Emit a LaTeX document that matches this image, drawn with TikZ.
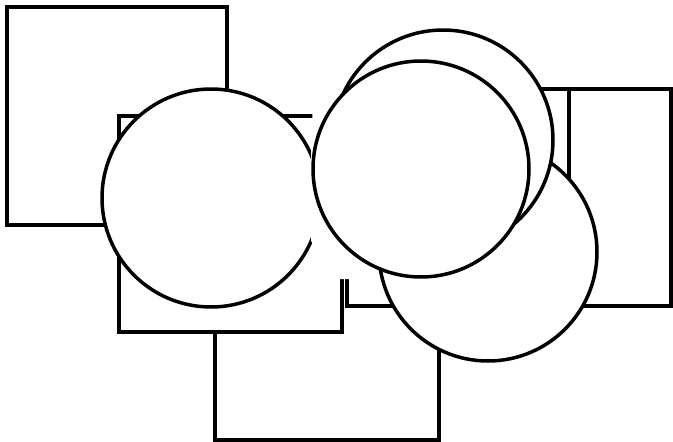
\documentclass[tikz,border=0pt]{standalone}
\begin{document}
\begin{tikzpicture}[
    x=1pt, y=-1pt,
    sheet/.style={draw=black, fill=white, line width=3.1pt, line join=miter},
    disc/.style={draw=black, fill=white, line width=3.5pt},
    blank/.style={fill=white, draw=none}
  ]
    \useasboundingbox (0,0) rectangle (673,442);

    % sheets at the back
    \path[sheet] (7,7) rectangle (227,225);
    \path[sheet] (215,200) rectangle (439,440);
    \path[sheet] (119,116) rectangle (342,332);
    \path[disc] (211,198) circle[radius=109];
    \path[sheet] (347,89) rectangle (640,306);
    \path[sheet] (569,89) rectangle (671,306);

    % unseen cover between the discs
    \path[blank] (313,100) -- (345,100) -- (385,200) -- (362,279)
      -- (338,279) -- (311,241) -- (311,152) -- cycle;

    % discs in front
    \path[disc] (488,252) circle[radius=109];
    \path[disc] (443,140) circle[radius=110];
    \path[disc] (421,169) circle[radius=108];
\end{tikzpicture}
\end{document}
